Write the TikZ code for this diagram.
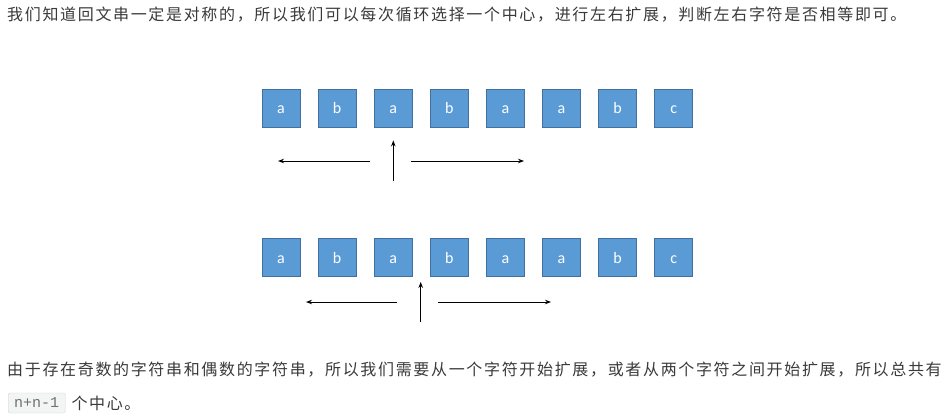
\documentclass[tikz,border=0pt]{standalone}
\usepackage{fontspec}
\setmainfont{Carlito}
\newfontfamily\cjk[LetterSpace=10.4]{Noto Sans CJK SC}
\newfontfamily\codefont{Liberation Mono}
\usetikzlibrary{arrows.meta}
\definecolor{boxblue}{HTML}{5B9BD5}
\definecolor{boxedge}{HTML}{41719C}
\definecolor{txt}{HTML}{3A3A3A}
\definecolor{codebg}{HTML}{F3F4F4}
\definecolor{codetxt}{HTML}{707070}
\tikzset{
  cell/.style={draw=boxedge, line width=0.8pt, fill=boxblue, minimum width=38pt, minimum height=38pt, inner sep=0pt, text height=11pt, text depth=0pt, text=white, font=\fontsize{16}{16}\selectfont},
  para/.style={anchor=west, inner sep=0pt, text=txt, font=\cjk\fontsize{16}{16}\selectfont},
  arr/.style={line width=1pt, -{Stealth[length=6pt,width=4.5pt]}},
  codebox/.style={fill=codebg, draw=codebg!85!black, line width=0.3pt, rounded corners=1.5pt, inner xsep=6pt, inner ysep=0pt, minimum height=20pt, text=codetxt, font=\codefont\fontsize{15}{15}\selectfont, anchor=west}
}
\begin{document}
\begin{tikzpicture}[x=1pt,y=-1pt]
\useasboundingbox (0,0) rectangle (941,415);
\node[para] (t1) at (7,14.5) {我们知道回文串一定是对称的，所以我们可以每次循环选择一个中心，进行左右扩展，判断左右字符是否相等即可。};
% row 1
\foreach \c [count=\i from 0] in {a,b,a,b,a,a,b,c}
  \node[cell] (r1c\i) at (281+56.1*\i,108) {\c};
% row 2
\foreach \c [count=\i from 0] in {a,b,a,b,a,a,b,c}
  \node[cell] (r2c\i) at (281+56.1*\i,257.5) {\c};
% arrows row 1
\coordinate (u1s) at (393.3,181);
\coordinate (l1s) at (370,161);
\coordinate (l1e) at (278,161);
\coordinate (ri1s) at (411,161);
\coordinate (ri1e) at (524,161);
\draw[arr] (u1s) -- ([yshift=-13pt]u1s |- r1c2.south);
\draw[arr] (l1s) -- (l1e);
\draw[arr] (ri1s) -- (ri1e);
% arrows row 2
\coordinate (u2s) at (420.7,322);
\coordinate (l2s) at (397,302);
\coordinate (l2e) at (306,302);
\coordinate (ri2s) at (438,302);
\coordinate (ri2e) at (551,302);
\draw[arr] (u2s) -- ([yshift=-5pt]u2s |- r2c3.south);
\draw[arr] (l2s) -- (l2e);
\draw[arr] (ri2s) -- (ri2e);
% bottom text
\node[para] (t2) at (7,370) {由于存在奇数的字符串和偶数的字符串，所以我们需要从一个字符开始扩展，或者从两个字符之间开始扩展，所以总共有};
\node[codebox] (code) at (8,403) {n+n-1};
\node[para] (t3) at ([xshift=6pt]code.east) {个中心。};
\end{tikzpicture}
\end{document}
